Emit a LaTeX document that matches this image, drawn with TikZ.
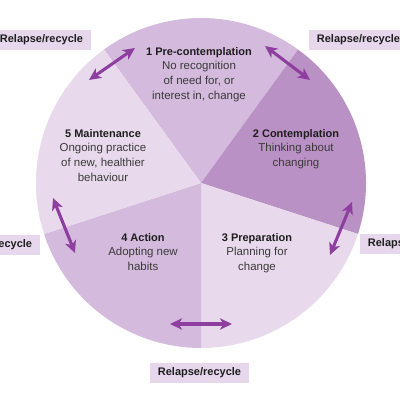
\documentclass[tikz,border=0pt]{standalone}
\usepackage{fontspec}
\setmainfont{Liberation Sans}
\usetikzlibrary{arrows.meta}
\definecolor{segA}{HTML}{D4BADD}
\definecolor{segB}{HTML}{BA91C4}
\definecolor{segC}{HTML}{E8DAEC}
\definecolor{boxc}{HTML}{E6D7EC}
\definecolor{arr}{HTML}{8E3E9E}
\definecolor{txt}{HTML}{3A3A3A}
\definecolor{ttl}{HTML}{1E1E1E}
\begin{document}
\begin{tikzpicture}[x=0.75pt,y=0.75pt,
  relbox/.style={fill=boxc, font=\fontsize{8.25}{10}\selectfont\bfseries, text=ttl,
    minimum height=15pt, minimum width=74.25pt, inner sep=0pt},
  stagetext/.style={align=center, anchor=north, inner sep=0pt, text=txt,
    font=\fontsize{8.6}{11}\selectfont},
  dblarrow/.style={draw=arr, line width=2.3pt,
    {Stealth[length=9pt,width=8.5pt,inset=2.5pt]}-{Stealth[length=9pt,width=8.5pt,inset=2.5pt]}}]
\useasboundingbox (0,0) rectangle (400,400);
\clip (0,0) rectangle (400,400);
\coordinate (C) at (201,217);
% sectors
\fill[segA] (C) -- ++(54:165) arc[start angle=54,end angle=126,radius=165] -- cycle;
\fill[segB] (C) -- ++(-18:165) arc[start angle=-18,end angle=54,radius=165] -- cycle;
\fill[segC] (C) -- ++(-90:165) arc[start angle=-90,end angle=-18,radius=165] -- cycle;
\fill[segA] (C) -- ++(198:165) arc[start angle=198,end angle=270,radius=165] -- cycle;
\fill[segC] (C) -- ++(126:165) arc[start angle=126,end angle=198,radius=165] -- cycle;
% stage texts
\node[stagetext] (s1) at (199,353) {{\fontsize{8.25}{11}\selectfont\bfseries\color{ttl}1 Pre-contemplation}\\No recognition\\of need for, or\\interest in, change};
\node[stagetext] (s2) at (296,271) {{\fontsize{8.25}{11}\selectfont\bfseries\color{ttl}2 Contemplation}\\Thinking about\\changing};
\node[stagetext] (s3) at (257,167) {{\fontsize{8.25}{11}\selectfont\bfseries\color{ttl}3 Preparation}\\Planning for\\change};
\node[stagetext] (s4) at (143,167) {{\fontsize{8.25}{11}\selectfont\bfseries\color{ttl}4 Action}\\Adopting new\\habits};
\node[stagetext] (s5) at (103,271) {{\fontsize{8.25}{11}\selectfont\bfseries\color{ttl}5 Maintenance}\\Ongoing practice\\of new, healthier\\behaviour};
% relapse boxes
\node[relbox] (r15) at (41.5,360) {Relapse/recycle};
\node[relbox] (r12) at (358.5,360) {Relapse/recycle};
\node[relbox] (r45) at (-9.5,155) {Relapse/recycle};
\node[relbox] (r23) at (409.5,156) {Relapse/recycle};
\node[relbox] (r34) at (199.5,27) {Relapse/recycle};
% arrows
\coordinate (a15a) at (89,320); \coordinate (a15b) at (135,352);
\coordinate (a12a) at (265,354); \coordinate (a12b) at (310,320);
\coordinate (a23a) at (352,198); \coordinate (a23b) at (330,145);
\coordinate (a34a) at (170,76); \coordinate (a34b) at (232,76);
\coordinate (a45a) at (53,202); \coordinate (a45b) at (75,147);
\draw[dblarrow] (a15a) -- (a15b);
\draw[dblarrow] (a12a) -- (a12b);
\draw[dblarrow] (a23a) -- (a23b);
\draw[dblarrow] (a34a) -- (a34b);
\draw[dblarrow] (a45a) -- (a45b);
\end{tikzpicture}
\end{document}
